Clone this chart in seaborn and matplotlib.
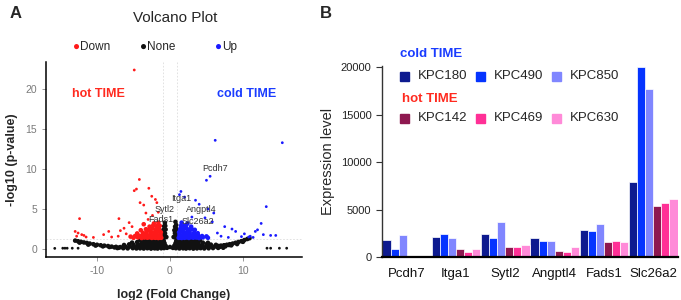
import pandas as pd
import matplotlib.pyplot as plt
import seaborn as sns
from matplotlib.patches import Rectangle

# ---- Volcano plot data ----
none_x = [-7.2, -6.4, -5.8, -5.1, -4.6, -4.1, -3.6, -3.1, -2.6, -2.1, -1.7, -1.2, -0.8, -0.4, 0.0, 0.4, 0.8, 1.3, 1.8, 2.2,
          2.7, 3.2, 3.7, 4.2, 4.7, 5.3, 5.9, 6.6, 7.3,
          -8.0, -7.4, -6.8, -6.1, -5.5, -5.0, -4.5, -4.0, -3.5, -3.0, -2.5, -2.0, -1.5, -1.0, -0.6, 0.6, 1.0, 1.5, 2.0, 2.5,
          3.0, 3.5, 4.0, 4.5, 5.0, 5.5, 6.1, 6.8, 7.5, 8.1,
          -6.3, -5.6, -5.0, -4.4, -3.9, -3.4, -2.9, -2.4, -1.9, -1.4, -1.0, -0.75, 0.75, 1.0, 1.4, 1.9, 2.4, 2.9, 3.4, 3.9,
          4.4, 5.0, 5.6, 6.3,
          -5.2, -4.5, -3.8, -3.2, -2.7, -2.2, -1.8, -1.4, -1.05, -0.85, 0.85, 1.05, 1.4, 1.8, 2.2, 2.7, 3.2, 3.8, 4.5, 5.2,
          -4.1, -3.5, -2.9, -2.4, -1.9, -1.5, -1.15, -0.9, 0.9, 1.15, 1.5, 1.9, 2.4, 2.9, 3.5, 4.1,
          -3.2, -2.6, -2.1, -1.7, -1.3, -1.0, 1.0, 1.3, 1.7, 2.1, 2.6, 3.2,
          -0.98, -0.75, -0.5, 0.5, 0.75, 0.98, -0.95, -0.68, 0.68, 0.95, -0.9, -0.6, 0.6, 0.9, -0.8, -0.65, 0.7, 0.85,
          -0.7, 0.75, -0.95, 0.95, -0.85, 0.88,
          -13.0, -12.6, -12.2, -11.8, -11.4, -11.0, -10.5, -10.0, -9.5, -9.0, -8.5, -11.2, -10.2, -9.2, -8.3, -7.6, -7.0, -12.4,
          10.6, 10.2, 9.8, 9.4, 9.0, 8.6, 8.2, 7.8, 7.4, 7.0, 6.6, 10.0, 9.2, 8.4, 7.6, 6.8, 10.9]
none_y = [0.12, 0.10, 0.08, 0.11, 0.07, 0.09, 0.06, 0.10, 0.05, 0.08, 0.06, 0.09, 0.12, 0.15, 0.25, 0.14, 0.10, 0.07, 0.09, 0.06,
          0.10, 0.05, 0.08, 0.11, 0.07, 0.09, 0.12, 0.14, 0.16,
          0.30, 0.27, 0.24, 0.28, 0.31, 0.26, 0.33, 0.29, 0.35, 0.30, 0.27, 0.34, 0.31, 0.36, 0.40, 0.42, 0.35, 0.30, 0.33, 0.28,
          0.35, 0.30, 0.26, 0.32, 0.29, 0.34, 0.30, 0.36, 0.42, 0.50,
          0.50, 0.58, 0.52, 0.60, 0.55, 0.62, 0.57, 0.53, 0.61, 0.56, 0.66, 0.72, 0.70, 0.62, 0.58, 0.54, 0.60, 0.55, 0.63, 0.57,
          0.52, 0.59, 0.55, 0.52,
          0.80, 0.86, 0.82, 0.90, 0.84, 0.88, 0.83, 0.91, 0.86, 0.95, 0.96, 0.88, 0.82, 0.90, 0.85, 0.89, 0.83, 0.87, 0.80, 0.78,
          1.08, 1.12, 1.06, 1.15, 1.10, 1.14, 1.08, 1.18, 1.20, 1.10, 1.13, 1.07, 1.15, 1.09, 1.12, 1.05,
          1.26, 1.24, 1.28, 1.25, 1.27, 1.30, 1.30, 1.27, 1.25, 1.28, 1.24, 1.26,
          1.55, 1.60, 1.50, 1.50, 1.62, 1.55, 2.00, 1.95, 1.98, 2.05, 2.40, 2.45, 2.35, 2.50, 2.85, 2.90, 2.80, 3.00,
          3.30, 3.40, 1.80, 1.75, 2.20, 2.25,
          1.05, 0.97, 0.90, 0.82, 0.76, 0.68, 0.60, 0.53, 0.47, 0.42, 0.37, 0.55, 0.43, 0.33, 0.25, 0.20, 0.17, 0.80,
          1.25, 1.12, 0.98, 0.88, 0.78, 0.68, 0.60, 0.53, 0.47, 0.42, 0.38, 0.90, 0.62, 0.46, 0.34, 0.26, 1.35]
# isolated unchanged genes at the far ends
none_out_x = [-15.8, -14.7, -14.4, -14.1, -13.4, -12.6, 13.3, 13.8, 15.0, 16.0]
none_out_y = [0.08, 0.10, 0.10, 0.10, 0.10, 0.10, 0.10, 0.10, 0.10, 0.10]

# dense cluster of down-regulated genes
down_x = [-1.2, -1.4, -1.6, -1.8, -2.0, -2.2, -2.5, -2.8, -3.1, -3.5, -3.9, -4.4, -5.0,
          -1.3, -1.5, -1.9, -2.3, -2.7, -3.0, -3.4, -3.8, -4.2, -4.8, -5.4,
          -1.25, -1.7, -2.1, -2.6, -3.2, -3.7, -4.5, -1.5, -2.0, -2.4, -2.9, -3.3, -4.0,
          -1.4, -1.8, -2.3, -2.8, -1.6, -2.2, -3.6]
down_y = [1.40, 1.42, 1.38, 1.45, 1.40, 1.44, 1.39, 1.46, 1.41, 1.43, 1.38, 1.45, 1.40,
          1.75, 1.70, 1.80, 1.72, 1.78, 1.68, 1.74, 1.70, 1.65, 1.62, 1.55,
          2.10, 2.15, 2.05, 2.12, 2.08, 2.02, 1.95, 2.50, 2.45, 2.55, 2.40, 2.48, 2.35,
          2.90, 2.85, 2.95, 2.80, 3.30, 3.20, 3.10]
# scattered down-regulated genes
down_out_x = [-4.9, -4.2, -4.6, -4.9, -2.9, -2.5, -2.0, -1.8, -3.6, -4.1, -3.3, -12.4, -7.0, -5.6, -13.0, -12.6,
              -12.1, -12.8, -11.5, -9.1, -8.4, -8.0, -7.1, -6.3, -6.0, -5.2, -2.4, -1.6, -3.0, -6.8, -10.5, -11.8]
down_out_y = [22.4, 8.7, 7.5, 7.3, 7.6, 6.6, 6.2, 5.8, 5.5, 5.8, 4.5, 3.8, 3.8, 3.3, 2.2, 2.0,
              1.8, 1.6, 1.5, 1.8, 2.2, 1.5, 1.6, 2.6, 1.9, 2.8, 4.2, 4.6, 3.7, 2.3, 1.45, 1.7]

up_x = [1.2, 1.4, 1.6, 1.8, 2.0, 2.3, 2.6, 2.9, 3.2, 3.6, 4.0, 4.5, 5.2,
        1.3, 1.5, 1.9, 2.2, 2.5, 2.8, 3.1, 3.5, 3.9, 4.4, 5.0,
        1.25, 1.7, 2.1, 2.4, 2.7, 3.3, 3.8, 1.4, 1.8, 2.3, 2.6, 3.0, 3.4,
        1.5, 1.9, 2.2, 2.9, 1.6, 2.4]
up_y = [1.40, 1.42, 1.38, 1.45, 1.40, 1.44, 1.39, 1.46, 1.41, 1.43, 1.38, 1.45, 1.40,
        1.75, 1.70, 1.80, 1.72, 1.78, 1.68, 1.74, 1.70, 1.65, 1.62, 1.58,
        2.10, 2.15, 2.05, 2.12, 2.08, 2.02, 1.98, 2.50, 2.45, 2.55, 2.40, 2.48, 2.40,
        2.90, 2.85, 2.95, 2.80, 3.30, 3.20]
up_out_x = [5.0, 5.5, 6.2, 15.4, 1.5, 1.3, 2.0, 3.5, 4.0, 5.2, 6.0, 13.2, 12.5, 11.7, 12.0, 12.8,
            13.8, 14.5, 11.0, 10.8, 9.0, 8.5, 7.5, 6.5, 7.0, 5.8, 4.8, 3.0, 8.0, 9.8, 10.2, 11.4]
up_out_y = [8.6, 9.1, 13.6, 13.3, 7.2, 6.8, 6.5, 6.1, 5.6, 5.0, 4.5, 5.3, 3.2, 2.2, 2.4, 1.8,
            1.7, 1.7, 1.6, 1.5, 2.2, 2.5, 2.8, 2.0, 1.6, 3.4, 3.9, 4.0, 1.45, 1.55, 1.9, 1.45]

gene_labels = ['Pcdh7', 'Itga1', 'Sytl2', 'Angptl4', 'Fads1', 'Slc26a2']
gene_lx = [6.2, 1.5, -0.7, 4.3, -1.2, 3.8]
gene_ly = [10.1, 6.3, 5.0, 5.0, 3.7, 3.4]

# ---- Bar chart data ----
genes = ['Pcdh7', 'Itga1', 'Sytl2', 'Angptl4', 'Fads1', 'Slc26a2']
samples = ['KPC180', 'KPC490', 'KPC850', 'KPC142', 'KPC469', 'KPC630']
KPC180 = [1820, 2130, 2410, 1960, 2870, 7930]
KPC490 = [800, 2410, 1960, 1680, 2730, 20000]
KPC850 = [2270, 1960, 3640, 1680, 3460, 17740]
KPC142 = [0, 800, 1080, 630, 1540, 5420]
KPC469 = [0, 490, 1080, 490, 1680, 5730]
KPC630 = [0, 800, 1220, 1080, 1540, 6150]

sample_colors = {'KPC180': '#0d1a8f', 'KPC490': '#0534ff', 'KPC850': '#8086ff',
                 'KPC142': '#8e1850', 'KPC469': '#ff3096', 'KPC630': '#ff8ad8'}
group_colors = {'Down': '#ff1a1a', 'None': '#111111', 'Up': '#1a1aff'}

core = pd.DataFrame({
    'x': none_x + down_x + up_x,
    'y': none_y + down_y + up_y,
    'group': ['None'] * len(none_x) + ['Down'] * len(down_x) + ['Up'] * len(up_x),
})
outliers = pd.DataFrame({
    'x': none_out_x + down_out_x + up_out_x,
    'y': none_out_y + down_out_y + up_out_y,
    'group': ['None'] * len(none_out_x) + ['Down'] * len(down_out_x) + ['Up'] * len(up_out_x),
})

rows = []
for s, vals in zip(samples, [KPC180, KPC490, KPC850, KPC142, KPC469, KPC630]):
    for g, v in zip(genes, vals):
        rows.append({'gene': g, 'sample': s, 'expr': v})
bars = pd.DataFrame(rows)

sns.set_style('ticks')
plt.rcParams['font.family'] = ['Liberation Sans', 'DejaVu Sans']
plt.rcParams['axes.unicode_minus'] = False

fig = plt.figure(figsize=(6.81, 3.0), dpi=100)
axA = fig.add_axes([46 / 681, 43 / 300, 256 / 681, 195 / 300])
axB = fig.add_axes([382 / 681, 43 / 300, 296 / 681, 191 / 300])

# ---- panel A ----
for xv in [-1, 1]:
    axA.axvline(xv, color='#dddddd', lw=0.6, ls=(0, (2, 2)), zorder=0)
axA.axhline(1.3, color='#dddddd', lw=0.6, ls=(0, (2, 2)), zorder=0)
sns.scatterplot(data=core, x='x', y='y', hue='group', palette=group_colors,
                s=11, linewidth=0, legend=False, ax=axA)
sns.scatterplot(data=outliers, x='x', y='y', hue='group', palette=group_colors,
                s=4, linewidth=0, legend=False, ax=axA)
axA.set_xlim(-17, 18.1)
axA.set_ylim(-1.0, 23.4)
axA.set_xticks([-10, 0, 10])
axA.set_yticks([0, 5, 10, 15, 20])
axA.tick_params(colors='#888888', labelcolor='#7a7a7a', labelsize=7.5, length=3, width=0.6)
for side in ['left', 'bottom']:
    axA.spines[side].set_linewidth(1.1)
    axA.spines[side].set_color('black')
sns.despine(ax=axA)
axA.set_xlabel('log2 (Fold Change)', fontsize=9, fontweight='bold', labelpad=9)
axA.set_ylabel('-log10 (p-value)', fontsize=9, fontweight='bold', labelpad=5)

for lab, lx, ly in zip(gene_labels, gene_lx, gene_ly):
    axA.text(lx, ly, lab, fontsize=6.5, color='#333333', ha='center', va='center')

axA.text(-9.8, 19.4, 'hot TIME', color='#ff2a1f', fontsize=9, fontweight='bold', ha='center', va='center')
axA.text(10.5, 19.4, 'cold TIME', color='#1a3cff', fontsize=9, fontweight='bold', ha='center', va='center')

fig.text(175 / 681, 1 - 18 / 300, 'Volcano Plot', fontsize=11, ha='center', va='center')
for lx, lab, name in [(73, 'Down', 'Down'), (140, 'None', 'None'), (215, 'Up', 'Up')]:
    fig.text(lx / 681, 1 - 47 / 300, '\u25cf', color=group_colors[name], fontsize=8.5, ha='left', va='center')
    fig.text((lx + 7) / 681, 1 - 47 / 300, lab, fontsize=8.5, ha='left', va='center')

# ---- panel B ----
sns.barplot(data=bars, x='gene', y='expr', hue='sample', order=genes, hue_order=samples,
            palette=sample_colors, saturation=1, width=0.98, edgecolor='white', linewidth=0.5,
            legend=False, ax=axB)
axB.set_xlim(-0.5, 5.5)
axB.set_ylim(0, 20150)
axB.set_yticks([0, 5000, 10000, 15000, 20000])
axB.tick_params(axis='y', labelsize=8, length=4, width=0.8, colors='#333333', labelcolor='#222222')
axB.tick_params(axis='x', labelsize=9.5, length=0, pad=8, labelcolor='#111111')
axB.spines['left'].set_linewidth(1.0)
axB.spines['left'].set_color('#333333')
axB.spines['bottom'].set_linewidth(1.6)
axB.spines['bottom'].set_color('black')
sns.despine(ax=axB)
axB.set_xlabel('')
axB.set_ylabel('Expression level', fontsize=10.5, labelpad=4)

# legend of panel B
fig.text(400 / 681, 1 - 54 / 300, 'cold TIME', color='#1a3cff', fontsize=9.5, fontweight='bold', ha='left', va='center')
fig.text(402 / 681, 1 - 99 / 300, 'hot TIME', color='#ff2a1f', fontsize=9.5, fontweight='bold', ha='left', va='center')
xs = [400, 476, 552]
for row_y, names in [(76, samples[:3]), (118, samples[3:])]:
    for x0, name in zip(xs, names):
        fig.patches.append(Rectangle((x0 / 681, (300 - row_y - 4.5) / 300), 9 / 681, 9 / 300,
                                     transform=fig.transFigure, color=sample_colors[name]))
        fig.text((x0 + 18) / 681, 1 - row_y / 300, name, fontsize=9.5, ha='left', va='center')

fig.text(10 / 681, 1 - 13 / 300, 'A', fontsize=12, fontweight='bold', ha='left', va='center')
fig.text(320 / 681, 1 - 13 / 300, 'B', fontsize=12, fontweight='bold', ha='left', va='center')

fig.savefig('out.png', dpi=100)
